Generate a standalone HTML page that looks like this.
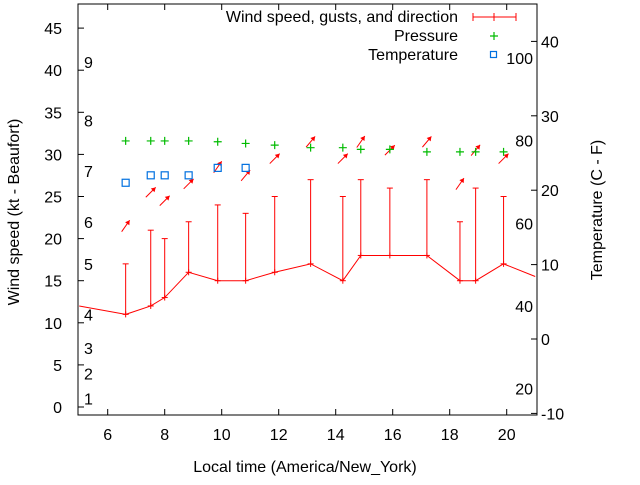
<!DOCTYPE html>
<html><head><meta charset="utf-8"><style>
body{margin:0;background:#fff;}
svg{font-family:"Liberation Sans",sans-serif;font-size:16px;}
</style></head><body>
<svg id="chart" width="640" height="480" xmlns="http://www.w3.org/2000/svg"></svg>
<script>
const hours=[6.63,7.51,8.0,8.84,9.86,10.84,11.86,13.12,14.25,14.88,15.9,17.2,18.36,18.91,19.89];
const windKt=[11,12,13,16,15,15,16,17,15,18,18,18,15,15,17];
const gustKt=[17,21,20,22,24,23,25,27,25,27,26,27,22,26,25];
const windDirDeg=[215,225,225,225,215,220,225,220,225,215,225,220,215,220,225];
const lineStart=[5,12];
const lineEnd=[21,15.5];
const pressureVals=[31.6,31.6,31.6,31.6,31.5,31.3,31.1,30.8,30.8,30.6,30.6,30.3,30.3,30.3,30.3];
const tempHours=[6.63,7.51,8.0,8.84,9.86,10.84];
const tempC=[21,22,22,22,23,23];
const xTicks=[6,8,10,12,14,16,18,20];
const yTicks=[0,5,10,15,20,25,30,35,40,45];
const y2Ticks=[-10,0,10,20,30,40];
const fLabels=[20,40,60,80,100];
const beaufortKt=[1,4,7,11,17,22,28,34,41];
const beaufortNum=[1,2,3,4,5,6,7,8,9];

const L=78,R=537,T=4,B=415;
const X=h=>79.2+(h-5)*28.5;
const Y=v=>407-v*8.42;
const Y2=c=>339-c*7.44;
const svg=document.getElementById('chart');
const NS='http://www.w3.org/2000/svg';
function el(tag,attrs,parent){const e=document.createElementNS(NS,tag);for(const k in attrs)e.setAttribute(k,attrs[k]);(parent||svg).appendChild(e);return e;}
function txt(s,x,y,anchor,name,extra){const t=el('text',Object.assign({x:x,y:y,'text-anchor':anchor,fill:'#000'},extra||{}));t.textContent=s;return t;}

const fr=el('rect',{x:L,y:T,width:R-L,height:B-T,fill:'none',stroke:'#000','stroke-width':1});



xTicks.forEach(h=>{const x=X(h);
 el('line',{x1:x,x2:x,y1:B,y2:B-6,stroke:'#000'});
 el('line',{x1:x,x2:x,y1:T,y2:T+6,stroke:'#000'});
 txt(String(h),x,440,'middle','x-tick-label');});
yTicks.forEach(v=>{const y=Y(v);
 el('line',{x1:L,x2:L+6,y1:y,y2:y,stroke:'#000'});
 txt(String(v),62,y+6,'end','y-tick-label');});
y2Ticks.forEach(c=>{const y=Y2(c);
 el('line',{x1:R,x2:R-6,y1:y,y2:y,stroke:'#000'});
 txt(String(c),541,y+6,'start','y2-tick-label');});
fLabels.forEach(f=>{const c=(f-32)*5/9;txt(String(f),533,Y2(c)+6,'end','fahrenheit-label');});
beaufortKt.forEach((k,i)=>{txt(String(beaufortNum[i]),84,Y(k)+6,'start','beaufort-label');});

txt('Local time (America/New_York)',305,472,'middle','x-axis-title');
txt('Wind speed (kt - Beaufort)',19,212,'middle','y-axis-title',{transform:'rotate(-90 19 212)'});
txt('Temperature (C - F)',602,210,'middle','y2-axis-title',{transform:'rotate(-90 602 210)'});

let pts=[[X(lineStart[0]),Y(lineStart[1])]];
hours.forEach((h,i)=>pts.push([X(h),Y(windKt[i])]));
pts.push([X(lineEnd[0]),Y(lineEnd[1])]);
const wl=el('polyline',{points:pts.map(p=>p.join(',')).join(' '),fill:'none',stroke:'#f00','stroke-width':1});



hours.forEach((h,i)=>{const x=X(h),y=Y(windKt[i]),g=Y(gustKt[i]);
 const gl=el('line',{x1:x,x2:x,y1:y,y2:g,stroke:'#f00'});
 
 
 el('line',{x1:x-3,x2:x+3,y1:g,y2:g,stroke:'#f00'});
 el('line',{x1:x-3,x2:x+3,y1:y,y2:y,stroke:'#f00'});
 el('line',{x1:x,x2:x,y1:y-3,y2:y+3,stroke:'#f00'});
 const cy=Y(gustKt[i]+4.5);const a=(windDirDeg[i]+180)*Math.PI/180;
 const dx=Math.sin(a)*7,dy=-Math.cos(a)*7;
 const ar=el('line',{x1:x-dx,y1:cy-dy,x2:x+dx,y2:cy+dy,stroke:'#f00'});
 
 
 const tx=x+dx,ty=cy+dy,ang=Math.atan2(dy,dx);
 const hp=[[tx,ty],[tx-5*Math.cos(ang-0.55),ty-5*Math.sin(ang-0.55)],[tx-5*Math.cos(ang+0.55),ty-5*Math.sin(ang+0.55)]];
 el('polygon',{points:hp.map(p=>p.join(',')).join(' '),fill:'#f00'});
 const py=Y(pressureVals[i]);
 const pg=el('path',{d:`M${x-4},${py}H${x+4}M${x},${py-4}V${py+4}`,stroke:'#0b0','stroke-width':1.2});
 
 
});
tempHours.forEach((h,i)=>{const x=X(h),y=Y2(tempC[i]);
 const s=el('rect',{x:x-3.5,y:y-3.5,width:7,height:7,fill:'none',stroke:'#0070e0','stroke-width':1.2});
 
 });

const lg=el('g',{});


txt('Wind speed, gusts, and direction',458,22,'end','legend-wind-label');
el('line',{x1:473,x2:516,y1:17,y2:17,stroke:'#f00'});
el('line',{x1:473,x2:473,y1:13,y2:21,stroke:'#f00'});
el('line',{x1:516,x2:516,y1:13,y2:21,stroke:'#f00'});
el('line',{x1:494,x2:494,y1:13,y2:21,stroke:'#f00'});
txt('Pressure',458,41,'end','legend-pressure-label');
el('path',{d:'M490,36H498M494,32V40',stroke:'#0b0','stroke-width':1.2});
txt('Temperature',458,60,'end','legend-temperature-label');
el('rect',{x:490.5,y:51.5,width:6,height:6,fill:'none',stroke:'#0070e0','stroke-width':1.2});
</script>
</body></html>
